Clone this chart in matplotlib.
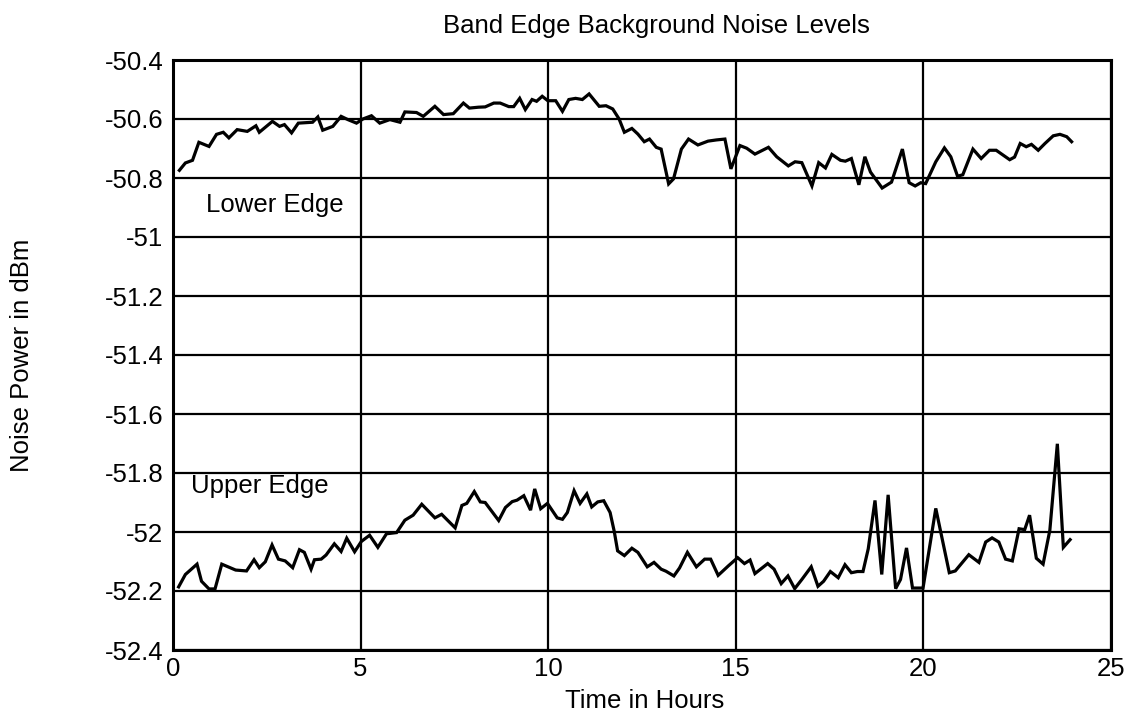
import matplotlib
matplotlib.use("Agg")
import matplotlib.pyplot as plt

# Lower band edge: time (h) and noise power (dBm)
hours_lower = [0.17, 0.33, 0.52, 0.69, 0.96, 1.16, 1.34, 1.49, 1.71, 1.98, 2.21, 2.30,
               2.65, 2.84, 2.97, 3.16, 3.34, 3.72, 3.86, 3.99, 4.26, 4.48, 4.66, 4.89,
               5.06, 5.29, 5.51, 5.78, 6.05, 6.18, 6.49, 6.67, 6.98, 7.21, 7.47, 7.74,
               7.90, 8.14, 8.32, 8.55, 8.72, 8.95, 9.08, 9.24, 9.39, 9.57, 9.69, 9.84,
               9.99, 10.20, 10.38, 10.55, 10.73, 10.91, 11.09, 11.36, 11.54, 11.72, 11.89,
               12.03, 12.23, 12.39, 12.56, 12.70, 12.88, 13.01, 13.21, 13.34, 13.55, 13.74,
               13.99, 14.26, 14.48, 14.71, 14.87, 15.11, 15.29, 15.51, 15.87, 16.09, 16.40,
               16.58, 16.76, 17.03, 17.21, 17.39, 17.56, 17.79, 17.92, 18.08, 18.28, 18.44,
               18.59, 18.90, 19.15, 19.44, 19.62, 19.78, 19.93, 20.06, 20.33, 20.56, 20.73,
               20.91, 21.05, 21.32, 21.54, 21.76, 21.94, 22.30, 22.43, 22.58, 22.74, 22.88,
               23.06, 23.24, 23.46, 23.64, 23.82, 23.95]
noise_lower = [-50.774, -50.749, -50.740, -50.679, -50.693, -50.652, -50.645, -50.664,
               -50.636, -50.642, -50.623, -50.645, -50.608, -50.625, -50.619, -50.647,
               -50.614, -50.611, -50.593, -50.638, -50.625, -50.591, -50.602, -50.614,
               -50.600, -50.589, -50.614, -50.602, -50.611, -50.576, -50.578, -50.591,
               -50.557, -50.585, -50.582, -50.546, -50.563, -50.560, -50.559, -50.546,
               -50.546, -50.558, -50.558, -50.530, -50.568, -50.534, -50.540, -50.523,
               -50.538, -50.538, -50.574, -50.534, -50.530, -50.534, -50.515, -50.557,
               -50.555, -50.566, -50.600, -50.645, -50.632, -50.651, -50.677, -50.668,
               -50.696, -50.702, -50.820, -50.803, -50.702, -50.668, -50.688, -50.675,
               -50.671, -50.668, -50.769, -50.690, -50.699, -50.719, -50.696, -50.728,
               -50.759, -50.745, -50.748, -50.827, -50.748, -50.766, -50.720, -50.740,
               -50.743, -50.734, -50.823, -50.728, -50.780, -50.834, -50.814, -50.702,
               -50.816, -50.827, -50.816, -50.819, -50.745, -50.698, -50.728, -50.794,
               -50.789, -50.702, -50.734, -50.706, -50.706, -50.738, -50.729, -50.683,
               -50.694, -50.686, -50.706, -50.683, -50.657, -50.652, -50.660, -50.677]

# Upper band edge: time (h) and noise power (dBm)
hours_upper = [0.15, 0.33, 0.64, 0.76, 0.96, 1.12, 1.30, 1.67, 1.96, 2.16, 2.30, 2.46,
               2.64, 2.81, 2.99, 3.19, 3.37, 3.50, 3.68, 3.77, 3.95, 4.08, 4.30, 4.48,
               4.63, 4.84, 5.02, 5.24, 5.46, 5.69, 5.96, 6.18, 6.40, 6.63, 6.98, 7.16,
               7.52, 7.70, 7.83, 8.03, 8.19, 8.32, 8.68, 8.86, 9.04, 9.17, 9.35, 9.53,
               9.64, 9.80, 9.98, 10.24, 10.38, 10.51, 10.69, 10.85, 11.03, 11.16, 11.32,
               11.48, 11.65, 11.76, 11.85, 12.03, 12.23, 12.39, 12.64, 12.82, 13.01, 13.14,
               13.35, 13.50, 13.71, 13.95, 14.17, 14.33, 14.53, 14.80, 15.05, 15.23, 15.38,
               15.51, 15.85, 16.02, 16.21, 16.39, 16.57, 16.76, 17.01, 17.19, 17.34, 17.52,
               17.73, 17.91, 18.08, 18.24, 18.39, 18.53, 18.71, 18.89, 19.06, 19.26, 19.39,
               19.55, 19.71, 19.99, 20.33, 20.51, 20.69, 20.85, 21.21, 21.48, 21.66, 21.83,
               22.01, 22.19, 22.37, 22.55, 22.70, 22.83, 23.01, 23.19, 23.37, 23.57, 23.73,
               23.91]
noise_upper = [-52.186, -52.144, -52.109, -52.167, -52.193, -52.193, -52.109, -52.129,
               -52.132, -52.094, -52.121, -52.101, -52.044, -52.092, -52.098, -52.121,
               -52.060, -52.069, -52.126, -52.094, -52.092, -52.078, -52.040, -52.066,
               -52.021, -52.067, -52.032, -52.011, -52.052, -52.006, -52.002, -51.960,
               -51.943, -51.906, -51.952, -51.940, -51.986, -51.910, -51.903, -51.863,
               -51.898, -51.900, -51.961, -51.917, -51.897, -51.892, -51.877, -51.926,
               -51.854, -51.921, -51.903, -51.952, -51.957, -51.934, -51.860, -51.903,
               -51.871, -51.915, -51.898, -51.894, -51.934, -51.998, -52.064, -52.080,
               -52.055, -52.069, -52.118, -52.103, -52.126, -52.133, -52.149, -52.122,
               -52.069, -52.118, -52.092, -52.092, -52.147, -52.115, -52.087, -52.107,
               -52.095, -52.141, -52.107, -52.126, -52.175, -52.149, -52.192, -52.161,
               -52.118, -52.184, -52.167, -52.134, -52.155, -52.111, -52.138, -52.134,
               -52.134, -52.057, -51.893, -52.144, -51.874, -52.192, -52.161, -52.054,
               -52.190, -52.190, -51.920, -52.029, -52.138, -52.132, -52.077, -52.103,
               -52.034, -52.020, -52.034, -52.092, -52.098, -51.989, -51.992, -51.943,
               -52.089, -52.109, -51.994, -51.701, -52.052, -52.026]

x_ticks = [0, 5, 10, 15, 20, 25]
y_ticks = [-50.4, -50.6, -50.8, -51.0, -51.2, -51.4, -51.6, -51.8, -52.0, -52.2, -52.4]
y_tick_labels = ["-50.4", "-50.6", "-50.8", "-51", "-51.2", "-51.4", "-51.6", "-51.8",
                 "-52", "-52.2", "-52.4"]

plt.rcParams["font.family"] = ["Liberation Sans", "DejaVu Sans"]
FS = 18.5

fig = plt.figure(figsize=(11.3, 7.15), dpi=100)
ax = fig.add_axes([173 / 1130, 1 - 650 / 715, (1111 - 173) / 1130, (650 - 60) / 715])

ax.plot(hours_lower, noise_lower, color="black", lw=2.3, solid_joinstyle="miter", zorder=3)
ax.plot(hours_upper, noise_upper, color="black", lw=2.3, solid_joinstyle="miter", zorder=3)

ax.set_xlim(0, 25)
ax.set_ylim(-52.4, -50.4)
ax.set_xticks(x_ticks)
ax.set_xticklabels([str(t) for t in x_ticks])
ax.set_yticks(y_ticks)
ax.set_yticklabels(y_tick_labels)
ax.tick_params(axis="both", length=0, labelsize=FS, colors="black")
ax.tick_params(axis="x", pad=5)
ax.tick_params(axis="y", pad=7)

ax.grid(True, color="black", lw=1.6, zorder=1)
ax.set_axisbelow(True)
for sp in ax.spines.values():
    sp.set_linewidth(2.2)
    sp.set_color("black")

ax.text(0.87, -50.915, "Lower Edge", fontsize=FS, ha="left", va="baseline", zorder=4)
ax.text(0.47, -51.868, "Upper Edge", fontsize=FS, ha="left", va="baseline", zorder=4)

fig.text(656 / 1130, 1 - 33 / 715, "Band Edge Background Noise Levels", fontsize=FS,
         ha="center", va="baseline")
fig.text(645 / 1130, 1 - 708 / 715, "Time in Hours", fontsize=FS, ha="center", va="baseline")
fig.text(22 / 1130, 1 - 355 / 715, "Noise Power in dBm", fontsize=FS, rotation=90,
         ha="center", va="center")

fig.savefig("out.png", dpi=100, facecolor="white")
